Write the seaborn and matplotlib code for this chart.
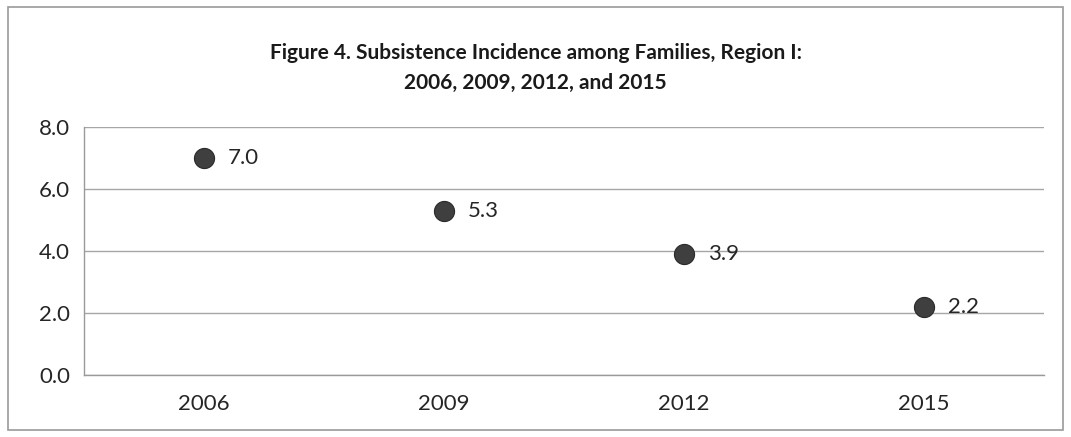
import matplotlib
matplotlib.use("Agg")
import matplotlib.pyplot as plt
from matplotlib.patches import Rectangle
from matplotlib.ticker import FixedLocator
import seaborn as sns
import pandas as pd

years = ["2006", "2009", "2012", "2015"]
incidence = [7.0, 5.3, 3.9, 2.2]
title = "Figure 4. Subsistence Incidence among Families, Region I:\n2006, 2009, 2012, and 2015"

sns.set_style("white")
plt.rcParams["font.family"] = ["Lato", "DejaVu Sans"]

df = pd.DataFrame({"year": years, "incidence": incidence})

fig = plt.figure(figsize=(10.71, 4.37), dpi=100)
ax = fig.add_axes([0.0784, 0.1419, 0.8964, 0.5675])

sns.scatterplot(data=df, x="year", y="incidence", ax=ax, s=210,
                color="#3f3f3f", edgecolor="#2a2a2a", linewidth=0.8, zorder=3)

for i, v in enumerate(incidence):
    ax.annotate(f"{v:.1f}", (i, v), xytext=(17, 0), textcoords="offset points",
                va="center", ha="left", fontsize=16, color="#262626")

ax.set_xlim(-0.5, len(years) - 0.5)
ax.set_ylim(0, 8)
ax.set_yticks([0, 2, 4, 6, 8])
ax.set_yticklabels([f"{t:.1f}" for t in [0, 2, 4, 6, 8]], fontsize=16, color="#262626")
ax.tick_params(axis="x", labelsize=16, colors="#262626", length=0, pad=14)
ax.tick_params(axis="y", length=0, pad=10)
ax.xaxis.set_minor_locator(FixedLocator([i - 0.5 for i in range(len(years) + 1)]))
ax.tick_params(axis="x", which="minor", length=6, color="#9a9a9a", width=1)
ax.set_xlabel("")
ax.set_ylabel("")

ax.grid(axis="y", color="#a6a6a6", linewidth=1)
ax.set_axisbelow(True)
for side in ["top", "right"]:
    ax.spines[side].set_visible(False)
for side in ["left", "bottom"]:
    ax.spines[side].set_color("#9a9a9a")
    ax.spines[side].set_linewidth(1)

fig.text(0.5, 0.845, title, ha="center", va="center", fontsize=15,
         fontweight="bold", color="#1a1a1a", linespacing=1.6)

fig.patches.append(Rectangle((8 / 1071, 7 / 437), 1055 / 1071, 423 / 437,
                             transform=fig.transFigure, fill=False,
                             edgecolor="#9a9a9a", linewidth=1.2))

fig.savefig("out.png", dpi=100)
